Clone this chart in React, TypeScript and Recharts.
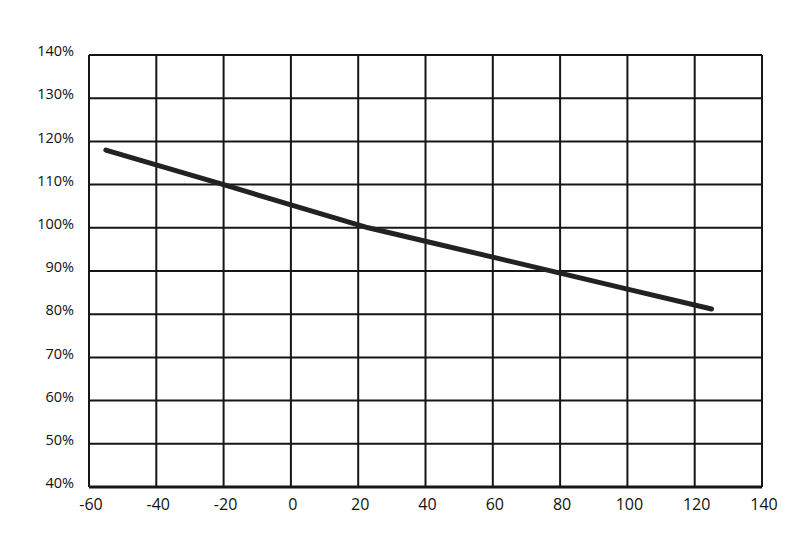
import { LineChart, Line, XAxis, YAxis, CartesianGrid } from "recharts";

// temperature (x) vs relative value (%)
const temps = [-55, -20, 0, 23, 40, 60, 80, 100, 125];
const percents = [118, 110, 105.3, 100, 96.9, 93.2, 89.5, 85.8, 81.2];

const xTicks = [-60, -40, -20, 0, 20, 40, 60, 80, 100, 120, 140];
const yTicks = [40, 50, 60, 70, 80, 90, 100, 110, 120, 130, 140];

const data = temps.map((t, i) => ({ t, v: percents[i] }));

const FONT = "'Open Sans', 'Noto Sans', sans-serif";

export default function App() {
  return (
    <div style={{ width: 790, height: 556, background: "#fff" }}>
      <style>{`body{margin:0}`}</style>
      <LineChart
        width={790}
        height={556}
        data={data}
        margin={{ top: 55, right: 28, bottom: 39, left: 29 }}
      >
        <CartesianGrid stroke="#161616" strokeWidth={2} />
        <XAxis
          dataKey="t"
          type="number"
          domain={[-60, 140]}
          ticks={xTicks}
          interval={0}
          height={30}
          tickLine={false}
          axisLine={{ stroke: "#161616", strokeWidth: 3 }}
          tick={{ fill: "#111", fontSize: 16, fontFamily: FONT, dx: 2 }}
          tickMargin={6}
          allowDataOverflow
        />
        <YAxis
          type="number"
          domain={[40, 140]}
          ticks={yTicks}
          interval={0}
          width={60}
          tickLine={false}
          axisLine={{ stroke: "#161616", strokeWidth: 2 }}
          tick={{ fill: "#111", fontSize: 14.5, fontFamily: FONT, dy: -4 }}
          tickMargin={9}
          tickFormatter={(v: number) => `${v}%`}
        />
        <Line
          dataKey="v"
          type="linear"
          stroke="#222"
          strokeWidth={5}
          strokeLinecap="round"
          strokeLinejoin="round"
          dot={false}
          isAnimationActive={false}
        />
      </LineChart>
    </div>
  );
}
